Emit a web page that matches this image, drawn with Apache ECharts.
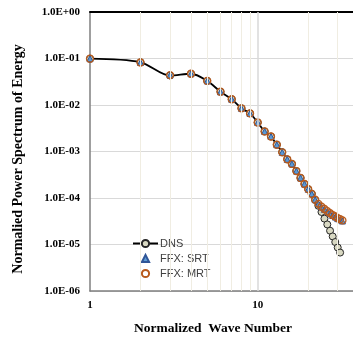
<!DOCTYPE html>
<html>
<head>
<meta charset="utf-8">
<script src="https://cdn.jsdelivr.net/npm/echarts@6/dist/echarts.min.js"></script>
<style>html,body{margin:0;padding:0;background:#fff}#c{width:353px;height:340px}</style>
</head>
<body>
<div id="c"></div>
<script>
// Wave numbers
const waveDNS = [1,2,3,4,5,6,7,8,9,10,11,12,13,14,15,16,17,18,19,20,21,22,23,24,25,26,27,28,29,30,31];
const waveFFX = [1,2,3,4,5,6,7,8,9,10,11,12,13,14,15,16,17,18,19,20,21,22,23,24,25,26,27,28,29,30,31,32];
// Normalized power spectrum values
const dnsValues = [0.099,0.083,0.043,0.047,0.033,0.0193,0.0133,0.0085,0.0066,0.0042,0.0027,0.0021,0.0014,0.00097,0.00068,0.00054,0.00038,0.00027,0.0002,0.000155,0.000123,0.000091,0.000068,0.00005,0.000036,0.000027,0.0000198,0.0000149,0.0000113,0.0000086,0.0000067];
const srtValues = [0.099,0.082,0.044,0.047,0.033,0.0192,0.0133,0.0085,0.0066,0.0042,0.0027,0.0021,0.0014,0.00096,0.00068,0.00054,0.00038,0.00027,0.0002,0.000155,0.000123,0.000092,0.000075,0.000064,0.000057,0.000051,0.000046,0.000042,0.000039,0.000036,0.000034,0.000032];
const mrtValues = [0.099,0.082,0.044,0.047,0.033,0.0193,0.0133,0.0085,0.0066,0.0042,0.0027,0.0021,0.0014,0.00096,0.00068,0.00054,0.00038,0.00027,0.0002,0.000155,0.000123,0.000092,0.000075,0.000065,0.000058,0.000052,0.000047,0.000043,0.00004,0.000037,0.000035,0.000033];
// Grid line positions
const minorGridX = [2,3,4,5,6,7,8,9,20,30];
const majorGridX = [10];
const seriesNames = ['DNS','FFX: SRT','FFX: MRT'];

function fmtY(v){
  const e = Math.round(Math.log10(v));
  return '1.0E' + (e < 0 ? '-' : '+') + String(Math.abs(e)).padStart(2,'0');
}
const zip = (xs, ys) => ys.map((y,i) => [xs[i], y]);

const chart = echarts.init(document.getElementById('c'), null, {renderer:'canvas'});
const serif = '"Liberation Serif", "Times New Roman", serif';
chart.setOption({
  animation:false,
  backgroundColor:'#fff',
  grid:{left:90, top:12, right:0, bottom:49, containLabel:false},
  xAxis:[{
    type:'log', logBase:10, min:1, max:37,
    axisLine:{show:true, onZero:false, lineStyle:{color:'#7f7f7f', width:1.5}},
    axisTick:{show:false},
    splitLine:{show:false},
    axisLabel:{show:true, margin:9, color:'#000', fontFamily:serif, fontWeight:'bold', fontSize:11, showMaxLabel:false,
      formatter:v => String(Math.round(v))}
  },{
    type:'log', logBase:10, min:1, max:37, position:'top',
    axisLine:{show:true, onZero:false, lineStyle:{color:'#000', width:2}},
    axisTick:{show:false}, splitLine:{show:false}, axisLabel:{show:false}
  }],
  yAxis:{
    type:'log', logBase:10, min:1e-6, max:1,
    axisLine:{show:true, onZero:false, lineStyle:{color:'#7f7f7f', width:1.5}},
    axisTick:{show:false},
    splitLine:{show:true, lineStyle:{color:'#d9d9d9', width:1}},
    axisLabel:{margin:10, color:'#000', fontFamily:serif, fontWeight:'bold', fontSize:11, formatter:fmtY}
  },
  legend:{
    orient:'vertical', left:127, top:233, itemWidth:25, itemHeight:9, itemGap:4,
    data:seriesNames,
    textStyle:{fontFamily:'"Liberation Sans", Arial, sans-serif', fontSize:11, color:'#404040', lineHeight:11, padding:[0,0,0,-3]}
  },
  graphic:[
    {type:'text', rotation:Math.PI/2, x:18, y:159, style:{text:'Normalied Power Spectrum of Energy', font:'bold 14px ' + serif, fill:'#000', textAlign:'center', textVerticalAlign:'middle'}},
    {type:'text', x:213, y:329, style:{text:'Normalized  Wave Number', font:'bold 13.5px ' + serif, fill:'#000', textAlign:'center', textVerticalAlign:'middle'}}
  ],
  series:[
    {
      name:'grid', type:'line', data:[], silent:true, z:0,
      markLine:{silent:true, symbol:'none', label:{show:false}, animation:false,
        data: minorGridX.map(v => ({xAxis:v, lineStyle:{color:'#f0ede2', width:1, type:'solid'}}))
          .concat(majorGridX.map(v => ({xAxis:v, lineStyle:{color:'#d9d9d9', width:1.5, type:'solid'}})))}
    },
    {
      name:'DNS', type:'line', data:zip(waveDNS, dnsValues), smooth:0.3,
      symbol:'circle', symbolSize:7, showAllSymbol:true, z:2,
      lineStyle:{color:'#000', width:1.8},
      itemStyle:{color:'#d8d8c2', borderColor:'#262626', borderWidth:1}
    },
    {
      name:'FFX: SRT', type:'line', data:zip(waveFFX, srtValues),
      symbol:'triangle', symbolSize:6, showAllSymbol:true, z:3,
      lineStyle:{width:0, opacity:0},
      itemStyle:{color:'#5b9bd5', borderColor:'#2f5597', borderWidth:1}
    },
    {
      name:'FFX: MRT', type:'line', data:zip(waveFFX, mrtValues),
      symbol:'circle', symbolSize:7, showAllSymbol:true, z:4,
      lineStyle:{width:0, opacity:0},
      itemStyle:{color:'rgba(0,0,0,0)', borderColor:'#b85a1c', borderWidth:1.3}
    }
  ]
});
</script>
</body>
</html>
